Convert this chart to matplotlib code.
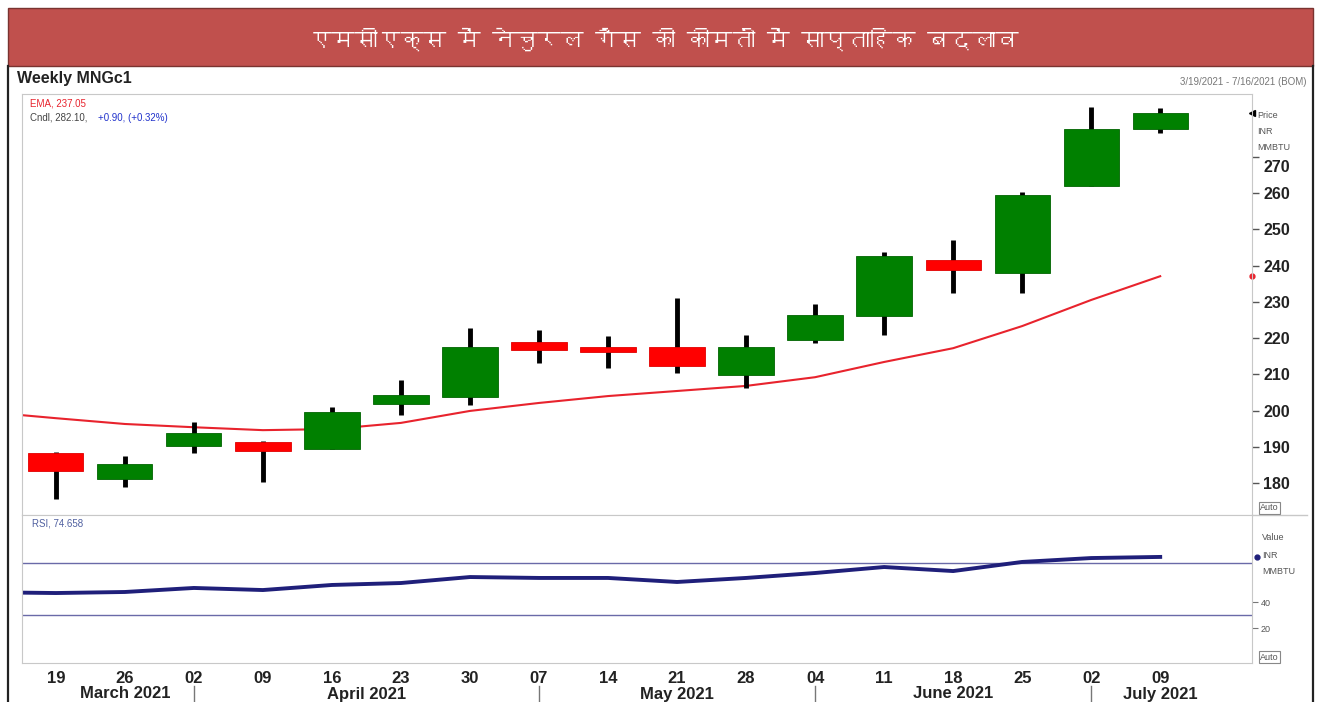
import matplotlib
matplotlib.use('Agg')
import matplotlib.pyplot as plt
from matplotlib import font_manager as fm
from matplotlib.ft2font import FT2Font
from matplotlib.lines import Line2D
from matplotlib.patches import Rectangle
from matplotlib.transforms import blended_transform_factory, ScaledTranslation

title = 'एमसीएक्स में नेचुरल गैस की कीमतों में साप्ताहिक बदलाव'
days = ['19', '26', '02', '09', '16', '23', '30', '07', '14', '21', '28',
        '04', '11', '18', '25', '02', '09']
months = ['March 2021', 'April 2021', 'May 2021', 'June 2021', 'July 2021']
month_start = [0, 2, 7, 11, 15]   # week index where each month begins

# weekly candles (INR/MMBTU)
opens = [188.3, 181.1, 190.2, 191.3, 189.4, 201.8, 203.7, 218.9, 217.5, 217.5,
         209.8, 219.4, 226.1, 241.5, 237.9, 261.9, 277.7]
highs = [188.5, 187.4, 196.8, 191.5, 201.0, 208.4, 222.8, 222.2, 220.6, 231.0,
         220.8, 229.4, 243.7, 247.0, 260.3, 283.7, 283.4]
lows = [175.6, 178.9, 188.3, 180.3, 189.4, 198.8, 201.5, 213.1, 211.7, 210.3,
        206.2, 218.6, 220.8, 232.4, 232.4, 261.9, 276.6]
closes = [183.3, 185.2, 193.8, 188.8, 199.6, 204.3, 217.5, 216.7, 216.1, 212.3,
          217.5, 226.3, 242.6, 238.8, 259.4, 277.7, 282.1]

# first value belongs to the week before 19 Mar
ema = [199.6, 197.9, 196.3, 195.4, 194.6, 194.9, 196.6, 199.9, 202.1, 204.0,
       205.4, 206.8, 209.2, 213.4, 217.2, 223.3, 230.5, 237.05]
rsi = [47.5, 46.9, 47.7, 50.8, 49.2, 53.1, 54.6, 59.2, 58.5, 58.5, 55.4,
       58.5, 62.3, 66.9, 63.8, 70.8, 73.8, 74.66]

price_ticks = [180, 190, 200, 210, 220, 230, 240, 250, 260, 270]
rsi_ticks = [20, 40]
rsi_levels = [30, 70]


def find_font(ch):
    for f in fm.fontManager.ttflist:
        try:
            if ord(ch) in FT2Font(f.fname).get_charmap():
                return f.name
        except Exception:
            pass
    return 'DejaVu Sans'


deva = find_font('क')
plt.rcParams['font.family'] = ['Liberation Sans', 'DejaVu Sans']

W, H = 1321, 702
fig = plt.figure(figsize=(W / 100, H / 100), dpi=100)


def px_axes(x0, y0, x1, y1):
    return fig.add_axes([x0 / W, 1 - y1 / H, (x1 - x0) / W, (y1 - y0) / H])


def fx(x):
    return x / W


def fy(y):
    return 1 - y / H


# banner + outer frame
fig.patches.append(Rectangle((fx(8), fy(66)), (1313 - 8) / W, 58 / H,
                             transform=fig.transFigure, facecolor='#C0504D',
                             edgecolor='#7a3330', lw=1))
fig.text(fx(664), fy(39), title, color='white', fontsize=16.5, fontweight='bold',
         family=[deva, 'DejaVu Sans'], ha='center', va='center')
for xx in (8, 1313):
    fig.add_artist(Line2D([fx(xx), fx(xx)], [0, fy(66)], color='#222222', lw=1.6,
                          transform=fig.transFigure))
fig.add_artist(Line2D([fx(1252), fx(1307)], [fy(515), fy(515)], color='#c8c8c8',
                      lw=1, transform=fig.transFigure))

fig.text(fx(17), fy(79), 'Weekly MNGc1', fontsize=11.5, fontweight='bold',
         color='#222222', va='center')
fig.text(fx(1307), fy(82), '3/19/2021 - 7/16/2021 (BOM)', fontsize=7,
         color='#777777', ha='right', va='center')

# ---- price panel
ax = px_axes(22, 94, 1252, 515)
ax.set_xlim(-0.49, 17.33)
ax.set_ylim(171.2, 287.3)

ax.plot(range(-1, len(days)), ema, color='#E8232D', lw=1.5, zorder=1)
for i in range(len(days)):
    up = closes[i] >= opens[i]
    col = '#008000' if up else '#FF0000'
    edge = '#006400' if up else '#E00000'
    ax.vlines(i, lows[i], highs[i], color='black', lw=3.5, zorder=2)
    ax.bar(i, abs(closes[i] - opens[i]), bottom=min(opens[i], closes[i]),
           width=0.8, color=col, edgecolor=edge, lw=0.6, zorder=3)

for s in ax.spines.values():
    s.set_color('#c8c8c8')
ax.set_xticks([])
ax.set_yticks(price_ticks)
ax.yaxis.tick_right()
ax.tick_params(axis='y', length=5, width=1, color='#555555', pad=3,
               labelsize=11.5, labelcolor='#222222')
for lab in ax.get_yticklabels():
    lab.set_fontweight('bold')
# top label sits a little lower, under the unit text
top_lab = ax.get_yticklabels()[-1]
top_lab.set_transform(top_lab.get_transform() +
                      ScaledTranslation(0, -7 / 72, fig.dpi_scale_trans))

yt = ax.get_yaxis_transform()
ax.plot(1.0, closes[-1], marker='<', ms=5, color='black', transform=yt, clip_on=False)
ax.plot(1.0, ema[-1], marker='o', ms=3.5, color='#E8232D', transform=yt, clip_on=False)

fig.text(fx(30), fy(103), 'EMA, 237.05', fontsize=7, color='#E8232D', va='center')
fig.text(fx(30), fy(118), 'Cndl, 282.10,', fontsize=7, color='#444444', va='center')
fig.text(fx(98), fy(118), '+0.90, (+0.32%)', fontsize=7, color='#2233CC', va='center')
for t, yy in (('Price', 116), ('INR', 132), ('MMBTU', 148)):
    fig.text(fx(1257), fy(yy), t, fontsize=6.5, color='#555555', va='center')
fig.text(fx(1260), fy(508), 'Auto', fontsize=6.5, color='#555555', va='center',
         bbox=dict(facecolor='white', edgecolor='#888888', pad=0.8, lw=0.8))

# ---- RSI panel
ax2 = px_axes(22, 515, 1252, 663)
ax2.set_xlim(-0.49, 17.33)
ax2.set_ylim(-6.9, 106.9)
for lv in rsi_levels:
    ax2.axhline(lv, color='#6a6aa8', lw=1, zorder=1)
ax2.plot(range(-1, len(days)), rsi, color='#1F1F7A', lw=2.8, zorder=2)
for s in ax2.spines.values():
    s.set_color('#c8c8c8')
ax2.yaxis.tick_right()
ax2.set_yticks(rsi_ticks)
ax2.tick_params(axis='y', length=4, color='#777777', labelsize=6.5,
                labelcolor='#555555', pad=2)
ax2.plot(1.004, rsi[-1], marker='o', ms=3.5, color='#1F1F7A',
         transform=ax2.get_yaxis_transform(), clip_on=False)

ax2.set_xticks(range(len(days)))
ax2.set_xticklabels(days)
ax2.tick_params(axis='x', length=0, pad=6, labelsize=12, labelcolor='#222222')
for lab in ax2.get_xticklabels():
    lab.set_fontweight('bold')

fig.text(fx(32), fy(523), 'RSI, 74.658', fontsize=7, color='#5060A0', va='center')
for t, yy in (('Value', 538), ('INR', 555), ('MMBTU', 571)):
    fig.text(fx(1262), fy(yy), t, fontsize=6.5, color='#555555', va='center')
fig.text(fx(1260), fy(657), 'Auto', fontsize=6.5, color='#555555', va='center',
         bbox=dict(facecolor='white', edgecolor='#888888', pad=0.8, lw=0.8))

# month labels and separators under the day labels
bt = blended_transform_factory(ax2.transData, fig.transFigure)
ends = month_start[1:] + [len(days)]
for name, a, b in zip(months, month_start, ends):
    ax2.text((a + b - 1) / 2 + 0.5, fy(694), name, transform=bt, ha='center',
             va='center', fontsize=12, fontweight='bold', color='#222222')
for a in month_start[1:]:
    ax2.add_artist(Line2D([a, a], [fy(686), fy(701)], transform=bt,
                          color='#777777', lw=1, clip_on=False))

fig.savefig('out.png', dpi=100)
